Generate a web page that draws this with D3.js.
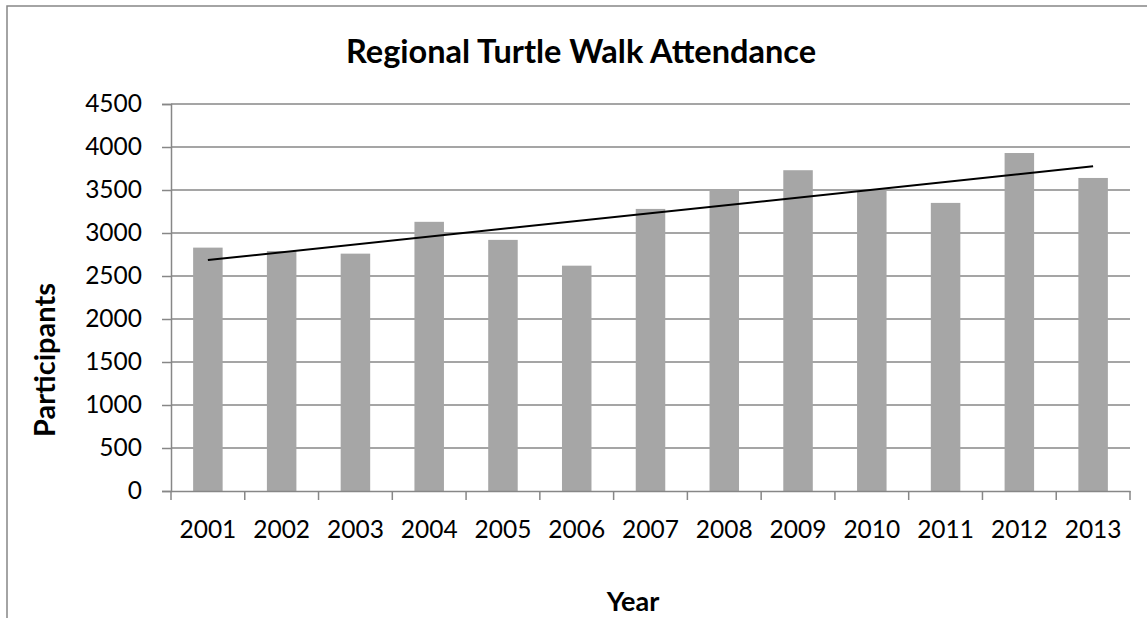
<!DOCTYPE html>
<html>
<head>
<meta charset="utf-8">
<script src="https://cdn.jsdelivr.net/npm/d3@7"></script>
<style>
  body { margin: 0; background: #fff; }
  svg { font-family: Lato, "Open Sans", sans-serif; display: block; }
</style>
</head>
<body>
<svg></svg>
<script>
// data
const years = ['2001','2002','2003','2004','2005','2006','2007','2008','2009','2010','2011','2012','2013'];
const participants = [2830, 2790, 2760, 3130, 2920, 2620, 3280, 3510, 3730, 3500, 3350, 3930, 3640];
const yTicks = [0, 500, 1000, 1500, 2000, 2500, 3000, 3500, 4000, 4500];

const svgWidth = 1147, svgHeight = 618;
const plot = { left: 171, right: 1130, top: 104, bottom: 491 };
const gray = '#878787';

const svg = d3.select('svg')
  .attr('width', svgWidth)
  .attr('height', svgHeight);

// chart area border (right and bottom edges fall outside the picture)
svg.append('rect')
  .attr('x', 7).attr('y', 6)
  .attr('width', 1150).attr('height', 640)
  .attr('fill', 'none')
  .attr('stroke', gray)
  .attr('stroke-width', 1.5);

const x = d3.scaleBand()
  .domain(years)
  .range([plot.left, plot.right])
  .paddingInner(0.6)
  .paddingOuter(0.3);

const y = d3.scaleLinear()
  .domain([0, 4500])
  .range([plot.bottom, plot.top]);

// gridlines
svg.append('g')
  .selectAll('line')
  .data(yTicks.filter(d => d > 0))
  .enter()
  .append('line')
  .attr('x1', plot.left).attr('x2', plot.right)
  .attr('y1', d => y(d)).attr('y2', d => y(d))
  .attr('stroke', gray)
  .attr('stroke-width', 1.5);

// bars
svg.append('g')
  .selectAll('rect')
  .data(participants)
  .enter()
  .append('rect')
  .attr('x', (d, i) => x(years[i]))
  .attr('y', d => y(d))
  .attr('width', x.bandwidth())
  .attr('height', d => y(0) - y(d))
  .attr('fill', '#a6a6a6');

// y axis
const yAxis = svg.append('g')
  .attr('transform', `translate(${plot.left},0)`)
  .call(d3.axisLeft(y).tickValues(yTicks).tickSize(9).tickPadding(20).tickFormat(d3.format('d')));
yAxis.selectAll('text').attr('font-size', 24.5).attr('fill', '#000').attr('font-family', 'Lato');

// x axis, ticks sit between categories
const xBoundaries = d3.range(years.length + 1).map(i => plot.left + i * (plot.right - plot.left) / years.length);
const xAxis = svg.append('g')
  .attr('transform', `translate(0,${plot.bottom})`)
  .call(d3.axisBottom(x).tickSize(0).tickPadding(30));
xAxis.selectAll('text').attr('font-size', 24.5).attr('fill', '#000').attr('font-family', 'Lato');
xAxis.selectAll('.tick line').remove();
xAxis.selectAll('.boundary')
  .data(xBoundaries)
  .enter()
  .append('line')
  .attr('x1', d => d).attr('x2', d => d)
  .attr('y1', 0).attr('y2', 9)
  .attr('stroke', gray)
  .attr('stroke-width', 1.5);

svg.selectAll('.domain').attr('stroke', gray).attr('stroke-width', 1.5);
yAxis.selectAll('.tick line').attr('stroke', gray).attr('stroke-width', 1.5);

// linear trendline (least squares on index)
const n = participants.length;
const xs = d3.range(1, n + 1);
const mx = d3.mean(xs), my = d3.mean(participants);
const slope = d3.sum(xs, (v, i) => (v - mx) * (participants[i] - my)) / d3.sum(xs, v => (v - mx) * (v - mx));
const intercept = my - slope * mx;
const trend = [1, n].map(v => ({ year: years[v - 1], value: intercept + slope * v }));

svg.append('path')
  .datum(trend)
  .attr('d', d3.line()
    .x(d => x(d.year) + x.bandwidth() / 2)
    .y(d => y(d.value)))
  .attr('fill', 'none')
  .attr('stroke', '#000')
  .attr('stroke-width', 2);

// titles
svg.append('text')
  .attr('x', 581).attr('y', 63)
  .attr('text-anchor', 'middle')
  .attr('font-size', 32.5)
  .attr('font-weight', 'bold')
  .text('Regional Turtle Walk Attendance');

svg.append('text')
  .attr('x', 633).attr('y', 611)
  .attr('text-anchor', 'middle')
  .attr('font-size', 27)
  .attr('font-weight', 'bold')
  .text('Year');

svg.append('text')
  .attr('transform', 'translate(55,360) rotate(-90)')
  .attr('text-anchor', 'middle')
  .attr('font-size', 29)
  .attr('font-weight', 'bold')
  .text('Participants');
</script>
</body>
</html>
